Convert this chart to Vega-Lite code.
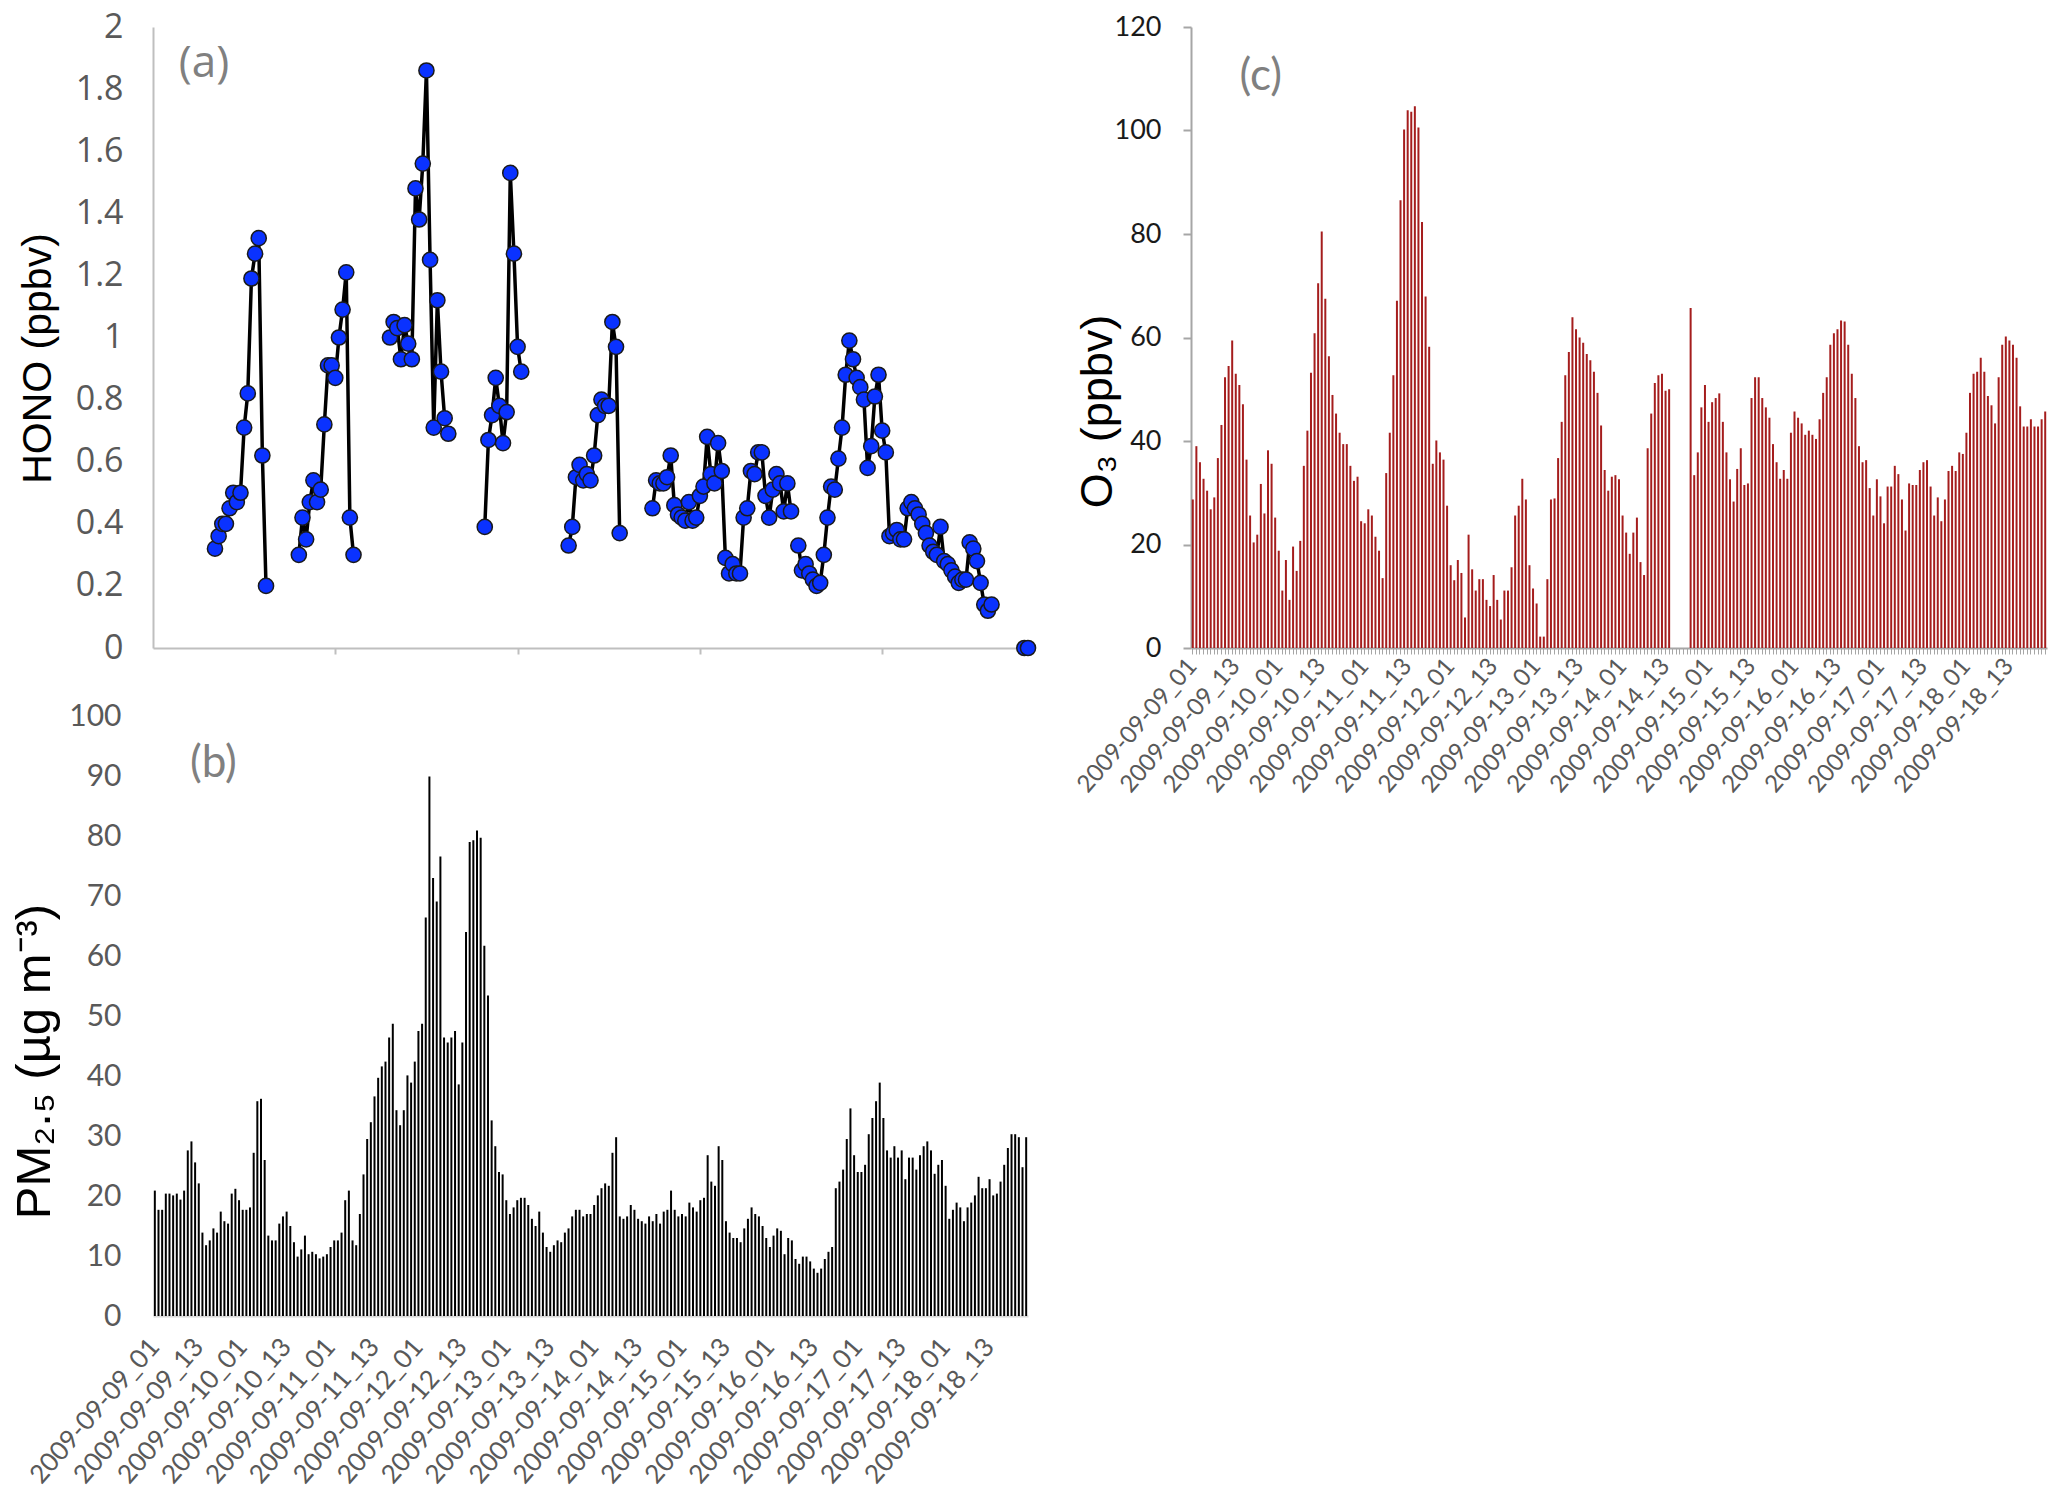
{
  "$schema": "https://vega.github.io/schema/vega-lite/v6.json",
  "background": "white",
  "padding": {"left": 10, "top": 10, "right": 5, "bottom": 5},
  "config": {"view": {"stroke": null}, "axis": {"grid": false}},
  "datasets": {
    "hono": [
      {"i":17,"v":0.32,"s":1},{"i":18,"v":0.36,"s":1},{"i":19,"v":0.40,"s":1},{"i":20,"v":0.40,"s":1},{"i":21,"v":0.45,"s":1},{"i":22,"v":0.50,"s":1},{"i":23,"v":0.47,"s":1},{"i":24,"v":0.50,"s":1},{"i":25,"v":0.71,"s":1},{"i":26,"v":0.82,"s":1},{"i":27,"v":1.19,"s":1},{"i":28,"v":1.27,"s":1},{"i":29,"v":1.32,"s":1},{"i":30,"v":0.62,"s":1},{"i":31,"v":0.20,"s":1},
      {"i":40,"v":0.30,"s":2},{"i":41,"v":0.42,"s":2},{"i":42,"v":0.35,"s":2},{"i":43,"v":0.47,"s":2},{"i":44,"v":0.54,"s":2},{"i":45,"v":0.47,"s":2},{"i":46,"v":0.51,"s":2},{"i":47,"v":0.72,"s":2},{"i":48,"v":0.91,"s":2},{"i":49,"v":0.91,"s":2},{"i":50,"v":0.87,"s":2},{"i":51,"v":1.00,"s":2},{"i":52,"v":1.09,"s":2},{"i":53,"v":1.21,"s":2},{"i":54,"v":0.42,"s":2},{"i":55,"v":0.30,"s":2},
      {"i":65,"v":1.00,"s":3},{"i":66,"v":1.05,"s":3},{"i":67,"v":1.03,"s":3},{"i":68,"v":0.93,"s":3},{"i":69,"v":1.04,"s":3},{"i":70,"v":0.98,"s":3},{"i":71,"v":0.93,"s":3},{"i":72,"v":1.48,"s":3},{"i":73,"v":1.38,"s":3},{"i":74,"v":1.56,"s":3},{"i":75,"v":1.86,"s":3},{"i":76,"v":1.25,"s":3},{"i":77,"v":0.71,"s":3},{"i":78,"v":1.12,"s":3},{"i":79,"v":0.89,"s":3},{"i":80,"v":0.74,"s":3},{"i":81,"v":0.69,"s":3},
      {"i":91,"v":0.39,"s":4},{"i":92,"v":0.67,"s":4},{"i":93,"v":0.75,"s":4},{"i":94,"v":0.87,"s":4},{"i":95,"v":0.78,"s":4},{"i":96,"v":0.66,"s":4},{"i":97,"v":0.76,"s":4},{"i":98,"v":1.53,"s":4},{"i":99,"v":1.27,"s":4},{"i":100,"v":0.97,"s":4},{"i":101,"v":0.89,"s":4},
      {"i":114,"v":0.33,"s":5},{"i":115,"v":0.39,"s":5},{"i":116,"v":0.55,"s":5},{"i":117,"v":0.59,"s":5},{"i":118,"v":0.54,"s":5},{"i":119,"v":0.56,"s":5},{"i":120,"v":0.54,"s":5},{"i":121,"v":0.62,"s":5},{"i":122,"v":0.75,"s":5},{"i":123,"v":0.80,"s":5},{"i":124,"v":0.78,"s":5},{"i":125,"v":0.78,"s":5},{"i":126,"v":1.05,"s":5},{"i":127,"v":0.97,"s":5},{"i":128,"v":0.37,"s":5},
      {"i":137,"v":0.45,"s":6},{"i":138,"v":0.54,"s":6},{"i":139,"v":0.53,"s":6},{"i":140,"v":0.53,"s":6},{"i":141,"v":0.55,"s":6},{"i":142,"v":0.62,"s":6},{"i":143,"v":0.46,"s":6},{"i":144,"v":0.43,"s":6},{"i":145,"v":0.42,"s":6},{"i":146,"v":0.41,"s":6},{"i":147,"v":0.47,"s":6},{"i":148,"v":0.41,"s":6},{"i":149,"v":0.42,"s":6},{"i":150,"v":0.49,"s":6},{"i":151,"v":0.52,"s":6},{"i":152,"v":0.68,"s":6},{"i":153,"v":0.56,"s":6},{"i":154,"v":0.53,"s":6},{"i":155,"v":0.66,"s":6},{"i":156,"v":0.57,"s":6},{"i":157,"v":0.29,"s":6},{"i":158,"v":0.24,"s":6},{"i":159,"v":0.27,"s":6},{"i":160,"v":0.24,"s":6},{"i":161,"v":0.24,"s":6},{"i":162,"v":0.42,"s":6},{"i":163,"v":0.45,"s":6},{"i":164,"v":0.57,"s":6},{"i":165,"v":0.56,"s":6},{"i":166,"v":0.63,"s":6},{"i":167,"v":0.63,"s":6},{"i":168,"v":0.49,"s":6},{"i":169,"v":0.42,"s":6},{"i":170,"v":0.51,"s":6},{"i":171,"v":0.56,"s":6},{"i":172,"v":0.53,"s":6},{"i":173,"v":0.44,"s":6},{"i":174,"v":0.53,"s":6},{"i":175,"v":0.44,"s":6},
      {"i":177,"v":0.33,"s":7},{"i":178,"v":0.25,"s":7},{"i":179,"v":0.27,"s":7},{"i":180,"v":0.24,"s":7},{"i":181,"v":0.22,"s":7},{"i":182,"v":0.20,"s":7},{"i":183,"v":0.21,"s":7},{"i":184,"v":0.30,"s":7},{"i":185,"v":0.42,"s":7},{"i":186,"v":0.52,"s":7},{"i":187,"v":0.51,"s":7},{"i":188,"v":0.61,"s":7},{"i":189,"v":0.71,"s":7},{"i":190,"v":0.88,"s":7},{"i":191,"v":0.99,"s":7},{"i":192,"v":0.93,"s":7},{"i":193,"v":0.87,"s":7},{"i":194,"v":0.84,"s":7},{"i":195,"v":0.80,"s":7},{"i":196,"v":0.58,"s":7},{"i":197,"v":0.65,"s":7},{"i":198,"v":0.81,"s":7},{"i":199,"v":0.88,"s":7},{"i":200,"v":0.70,"s":7},{"i":201,"v":0.63,"s":7},{"i":202,"v":0.36,"s":7},{"i":203,"v":0.37,"s":7},{"i":204,"v":0.38,"s":7},{"i":205,"v":0.35,"s":7},{"i":206,"v":0.35,"s":7},{"i":207,"v":0.45,"s":7},{"i":208,"v":0.47,"s":7},{"i":209,"v":0.45,"s":7},{"i":210,"v":0.43,"s":7},{"i":211,"v":0.40,"s":7},{"i":212,"v":0.37,"s":7},{"i":213,"v":0.33,"s":7},{"i":214,"v":0.31,"s":7},{"i":215,"v":0.30,"s":7},{"i":216,"v":0.39,"s":7},{"i":217,"v":0.28,"s":7},{"i":218,"v":0.27,"s":7},{"i":219,"v":0.25,"s":7},{"i":220,"v":0.23,"s":7},{"i":221,"v":0.21,"s":7},{"i":222,"v":0.22,"s":7},{"i":223,"v":0.22,"s":7},{"i":224,"v":0.34,"s":7},{"i":225,"v":0.32,"s":7},{"i":226,"v":0.28,"s":7},{"i":227,"v":0.21,"s":7},{"i":228,"v":0.14,"s":7},{"i":229,"v":0.12,"s":7},{"i":230,"v":0.14,"s":7},
      {"i":239,"v":0,"s":8},{"i":240,"v":0,"s":8}
    ],
    "hourly": [
      {"t":"2009-09-09_01","pm":20.9,"o3":28.7},{"t":"2009-09-09_02","pm":17.7,"o3":39.0},{"t":"2009-09-09_03","pm":17.7,"o3":35.9},{"t":"2009-09-09_04","pm":20.4,"o3":32.7},{"t":"2009-09-09_05","pm":20.4,"o3":30.4},{"t":"2009-09-09_06","pm":20.1,"o3":26.8},{"t":"2009-09-09_07","pm":20.4,"o3":29.1},{"t":"2009-09-09_08","pm":19.4,"o3":36.7},{"t":"2009-09-09_09","pm":20.9,"o3":43.1},{"t":"2009-09-09_10","pm":27.6,"o3":52.3},{"t":"2009-09-09_11","pm":29.1,"o3":54.5},{"t":"2009-09-09_12","pm":25.6,"o3":59.4},{"t":"2009-09-09_13","pm":22.1,"o3":53.0},{"t":"2009-09-09_14","pm":13.9,"o3":50.8},{"t":"2009-09-09_15","pm":11.8,"o3":47.1},{"t":"2009-09-09_16","pm":12.6,"o3":36.4},{"t":"2009-09-09_17","pm":14.6,"o3":25.6},{"t":"2009-09-09_18","pm":13.9,"o3":20.4},{"t":"2009-09-09_19","pm":17.4,"o3":21.9},{"t":"2009-09-09_20","pm":15.8,"o3":31.7},{"t":"2009-09-09_21","pm":15.4,"o3":26.0},{"t":"2009-09-09_22","pm":20.4,"o3":38.2},{"t":"2009-09-09_23","pm":21.2,"o3":35.6},{"t":"2009-09-09_24","pm":19.3,"o3":25.2},
      {"t":"2009-09-10_01","pm":17.7,"o3":18.8},{"t":"2009-09-10_02","pm":17.7,"o3":11.1},{"t":"2009-09-10_03","pm":18.1,"o3":17.0},{"t":"2009-09-10_04","pm":27.2,"o3":9.3},{"t":"2009-09-10_05","pm":35.8,"o3":19.6},{"t":"2009-09-10_06","pm":36.2,"o3":14.9},{"t":"2009-09-10_07","pm":26.0,"o3":20.7},{"t":"2009-09-10_08","pm":13.4,"o3":35.2},{"t":"2009-09-10_09","pm":12.6,"o3":42.0},{"t":"2009-09-10_10","pm":12.6,"o3":53.2},{"t":"2009-09-10_11","pm":15.4,"o3":60.8},{"t":"2009-09-10_12","pm":16.6,"o3":70.5},{"t":"2009-09-10_13","pm":17.4,"o3":80.5},{"t":"2009-09-10_14","pm":15.0,"o3":67.5},{"t":"2009-09-10_15","pm":12.3,"o3":56.4},{"t":"2009-09-10_16","pm":9.9,"o3":48.9},{"t":"2009-09-10_17","pm":11.1,"o3":45.3},{"t":"2009-09-10_18","pm":13.4,"o3":41.6},{"t":"2009-09-10_19","pm":10.3,"o3":39.4},{"t":"2009-09-10_20","pm":10.7,"o3":39.4},{"t":"2009-09-10_21","pm":10.3,"o3":35.2},{"t":"2009-09-10_22","pm":9.6,"o3":32.3},{"t":"2009-09-10_23","pm":9.9,"o3":33.1},{"t":"2009-09-10_24","pm":10.3,"o3":24.5},
      {"t":"2009-09-11_01","pm":11.5,"o3":24.1},{"t":"2009-09-11_02","pm":12.6,"o3":26.8},{"t":"2009-09-11_03","pm":12.6,"o3":25.6},{"t":"2009-09-11_04","pm":13.9,"o3":21.5},{"t":"2009-09-11_05","pm":19.3,"o3":18.8},{"t":"2009-09-11_06","pm":20.9,"o3":13.5},{"t":"2009-09-11_07","pm":12.6,"o3":33.8},{"t":"2009-09-11_08","pm":11.8,"o3":41.6},{"t":"2009-09-11_09","pm":17.0,"o3":52.7},{"t":"2009-09-11_10","pm":23.6,"o3":67.1},{"t":"2009-09-11_11","pm":29.5,"o3":86.5},{"t":"2009-09-11_12","pm":32.3,"o3":100.2},{"t":"2009-09-11_13","pm":36.6,"o3":103.9},{"t":"2009-09-11_14","pm":39.7,"o3":103.6},{"t":"2009-09-11_15","pm":41.6,"o3":104.7},{"t":"2009-09-11_16","pm":42.4,"o3":100.6},{"t":"2009-09-11_17","pm":46.4,"o3":82.3},{"t":"2009-09-11_18","pm":48.7,"o3":67.9},{"t":"2009-09-11_19","pm":34.3,"o3":58.2},{"t":"2009-09-11_20","pm":31.8,"o3":35.6},{"t":"2009-09-11_21","pm":34.3,"o3":40.1},{"t":"2009-09-11_22","pm":40.1,"o3":37.8},{"t":"2009-09-11_23","pm":38.9,"o3":36.4},{"t":"2009-09-11_24","pm":42.4,"o3":27.5},
      {"t":"2009-09-12_01","pm":47.5,"o3":16.0},{"t":"2009-09-12_02","pm":48.7,"o3":13.1},{"t":"2009-09-12_03","pm":66.4,"o3":17.0},{"t":"2009-09-12_04","pm":89.9,"o3":14.5},{"t":"2009-09-12_05","pm":73.0,"o3":5.9},{"t":"2009-09-12_06","pm":69.1,"o3":21.9},{"t":"2009-09-12_07","pm":76.6,"o3":15.2},{"t":"2009-09-12_08","pm":46.4,"o3":11.1},{"t":"2009-09-12_09","pm":45.6,"o3":13.3},{"t":"2009-09-12_10","pm":46.4,"o3":13.3},{"t":"2009-09-12_11","pm":47.5,"o3":9.3},{"t":"2009-09-12_12","pm":38.6,"o3":8.1},{"t":"2009-09-12_13","pm":45.6,"o3":14.1},{"t":"2009-09-12_14","pm":64.0,"o3":9.3},{"t":"2009-09-12_15","pm":79.0,"o3":5.5},{"t":"2009-09-12_16","pm":79.3,"o3":11.1},{"t":"2009-09-12_17","pm":80.9,"o3":11.1},{"t":"2009-09-12_18","pm":79.7,"o3":15.6},{"t":"2009-09-12_19","pm":61.7,"o3":25.6},{"t":"2009-09-12_20","pm":53.4,"o3":27.5},{"t":"2009-09-12_21","pm":32.6,"o3":32.7},{"t":"2009-09-12_22","pm":28.3,"o3":28.7},{"t":"2009-09-12_23","pm":24.0,"o3":16.0},{"t":"2009-09-12_24","pm":23.6,"o3":11.5},
      {"t":"2009-09-13_01","pm":19.3,"o3":8.6},{"t":"2009-09-13_02","pm":17.0,"o3":2.2},{"t":"2009-09-13_03","pm":18.1,"o3":2.2},{"t":"2009-09-13_04","pm":19.3,"o3":13.3},{"t":"2009-09-13_05","pm":19.7,"o3":28.7},{"t":"2009-09-13_06","pm":19.7,"o3":28.9},{"t":"2009-09-13_07","pm":18.5,"o3":36.7},{"t":"2009-09-13_08","pm":16.2,"o3":43.7},{"t":"2009-09-13_09","pm":15.0,"o3":52.7},{"t":"2009-09-13_10","pm":17.4,"o3":57.2},{"t":"2009-09-13_11","pm":13.9,"o3":63.9},{"t":"2009-09-13_12","pm":11.5,"o3":61.6},{"t":"2009-09-13_13","pm":10.7,"o3":60.0},{"t":"2009-09-13_14","pm":11.8,"o3":59.0},{"t":"2009-09-13_15","pm":12.6,"o3":56.8},{"t":"2009-09-13_16","pm":12.3,"o3":55.6},{"t":"2009-09-13_17","pm":13.9,"o3":53.4},{"t":"2009-09-13_18","pm":14.6,"o3":49.3},{"t":"2009-09-13_19","pm":16.6,"o3":43.0},{"t":"2009-09-13_20","pm":17.7,"o3":34.4},{"t":"2009-09-13_21","pm":17.7,"o3":30.4},{"t":"2009-09-13_22","pm":16.6,"o3":33.1},{"t":"2009-09-13_23","pm":17.0,"o3":33.4},{"t":"2009-09-13_24","pm":17.0,"o3":32.6},
      {"t":"2009-09-14_01","pm":18.5,"o3":25.6},{"t":"2009-09-14_02","pm":20.1,"o3":22.3},{"t":"2009-09-14_03","pm":21.3,"o3":18.2},{"t":"2009-09-14_04","pm":22.1,"o3":22.3},{"t":"2009-09-14_05","pm":21.7,"o3":25.2},{"t":"2009-09-14_06","pm":27.2,"o3":16.6},{"t":"2009-09-14_07","pm":29.8,"o3":14.1},{"t":"2009-09-14_08","pm":16.6,"o3":38.6},{"t":"2009-09-14_09","pm":16.2,"o3":45.3},{"t":"2009-09-14_10","pm":16.6,"o3":51.2},{"t":"2009-09-14_11","pm":18.5,"o3":52.7},{"t":"2009-09-14_12","pm":17.7,"o3":53.0},{"t":"2009-09-14_13","pm":16.2,"o3":49.7},{"t":"2009-09-14_14","pm":15.8,"o3":50.0},{"t":"2009-09-14_15","pm":15.4,"o3":0},{"t":"2009-09-14_16","pm":16.6,"o3":0},{"t":"2009-09-14_17","pm":15.8,"o3":0},{"t":"2009-09-14_18","pm":17.0,"o3":0},{"t":"2009-09-14_19","pm":15.4,"o3":0},{"t":"2009-09-14_20","pm":17.4,"o3":65.7},{"t":"2009-09-14_21","pm":17.7,"o3":33.4},{"t":"2009-09-14_22","pm":20.9,"o3":37.8},{"t":"2009-09-14_23","pm":17.7,"o3":46.5},{"t":"2009-09-14_24","pm":16.6,"o3":50.8},
      {"t":"2009-09-15_01","pm":17.0,"o3":43.7},{"t":"2009-09-15_02","pm":16.6,"o3":47.5},{"t":"2009-09-15_03","pm":18.9,"o3":48.3},{"t":"2009-09-15_04","pm":18.1,"o3":49.2},{"t":"2009-09-15_05","pm":17.4,"o3":43.7},{"t":"2009-09-15_06","pm":19.3,"o3":37.8},{"t":"2009-09-15_07","pm":19.7,"o3":32.6},{"t":"2009-09-15_08","pm":26.8,"o3":28.3},{"t":"2009-09-15_09","pm":22.4,"o3":34.6},{"t":"2009-09-15_10","pm":21.7,"o3":38.6},{"t":"2009-09-15_11","pm":28.3,"o3":31.5},{"t":"2009-09-15_12","pm":26.0,"o3":31.8},{"t":"2009-09-15_13","pm":15.8,"o3":48.3},{"t":"2009-09-15_14","pm":13.9,"o3":52.3},{"t":"2009-09-15_15","pm":13.0,"o3":52.3},{"t":"2009-09-15_16","pm":13.0,"o3":48.3},{"t":"2009-09-15_17","pm":12.3,"o3":46.5},{"t":"2009-09-15_18","pm":14.6,"o3":44.5},{"t":"2009-09-15_19","pm":16.2,"o3":39.4},{"t":"2009-09-15_20","pm":18.1,"o3":35.9},{"t":"2009-09-15_21","pm":17.0,"o3":32.7},{"t":"2009-09-15_22","pm":16.6,"o3":34.4},{"t":"2009-09-15_23","pm":15.0,"o3":32.7},{"t":"2009-09-15_24","pm":13.0,"o3":41.6},
      {"t":"2009-09-16_01","pm":11.5,"o3":45.7},{"t":"2009-09-16_02","pm":13.4,"o3":44.5},{"t":"2009-09-16_03","pm":14.6,"o3":43.4},{"t":"2009-09-16_04","pm":14.2,"o3":41.2},{"t":"2009-09-16_05","pm":10.3,"o3":42.0},{"t":"2009-09-16_06","pm":13.0,"o3":41.2},{"t":"2009-09-16_07","pm":12.6,"o3":40.4},{"t":"2009-09-16_08","pm":9.5,"o3":44.2},{"t":"2009-09-16_09","pm":8.7,"o3":49.3},{"t":"2009-09-16_10","pm":9.9,"o3":52.3},{"t":"2009-09-16_11","pm":9.9,"o3":58.6},{"t":"2009-09-16_12","pm":9.1,"o3":60.8},{"t":"2009-09-16_13","pm":7.9,"o3":61.6},{"t":"2009-09-16_14","pm":7.2,"o3":63.3},{"t":"2009-09-16_15","pm":7.9,"o3":63.1},{"t":"2009-09-16_16","pm":9.5,"o3":58.6},{"t":"2009-09-16_17","pm":10.7,"o3":53.0},{"t":"2009-09-16_18","pm":11.5,"o3":48.3},{"t":"2009-09-16_19","pm":21.3,"o3":39.0},{"t":"2009-09-16_20","pm":22.4,"o3":35.9},{"t":"2009-09-16_21","pm":24.4,"o3":36.3},{"t":"2009-09-16_22","pm":29.5,"o3":30.9},{"t":"2009-09-16_23","pm":34.6,"o3":25.6},{"t":"2009-09-16_24","pm":26.8,"o3":32.6},
      {"t":"2009-09-17_01","pm":24.0,"o3":29.3},{"t":"2009-09-17_02","pm":24.0,"o3":24.1},{"t":"2009-09-17_03","pm":25.2,"o3":31.2},{"t":"2009-09-17_04","pm":30.3,"o3":31.2},{"t":"2009-09-17_05","pm":33.0,"o3":35.2},{"t":"2009-09-17_06","pm":35.8,"o3":33.6},{"t":"2009-09-17_07","pm":38.9,"o3":28.7},{"t":"2009-09-17_08","pm":33.0,"o3":22.7},{"t":"2009-09-17_09","pm":27.6,"o3":31.8},{"t":"2009-09-17_10","pm":26.4,"o3":31.5},{"t":"2009-09-17_11","pm":28.3,"o3":31.5},{"t":"2009-09-17_12","pm":26.4,"o3":34.4},{"t":"2009-09-17_13","pm":27.6,"o3":35.9},{"t":"2009-09-17_14","pm":22.8,"o3":36.3},{"t":"2009-09-17_15","pm":26.4,"o3":31.2},{"t":"2009-09-17_16","pm":26.4,"o3":25.6},{"t":"2009-09-17_17","pm":24.4,"o3":29.1},{"t":"2009-09-17_18","pm":26.8,"o3":24.5},{"t":"2009-09-17_19","pm":28.3,"o3":28.7},{"t":"2009-09-17_20","pm":29.1,"o3":34.2},{"t":"2009-09-17_21","pm":27.6,"o3":35.2},{"t":"2009-09-17_22","pm":23.7,"o3":34.2},{"t":"2009-09-17_23","pm":25.2,"o3":37.8},{"t":"2009-09-17_24","pm":26.0,"o3":37.5},
      {"t":"2009-09-18_01","pm":21.7,"o3":41.6},{"t":"2009-09-18_02","pm":16.2,"o3":49.3},{"t":"2009-09-18_03","pm":17.7,"o3":53.0},{"t":"2009-09-18_04","pm":18.9,"o3":53.4},{"t":"2009-09-18_05","pm":18.1,"o3":56.1},{"t":"2009-09-18_06","pm":15.8,"o3":53.4},{"t":"2009-09-18_07","pm":18.1,"o3":48.7},{"t":"2009-09-18_08","pm":18.9,"o3":46.9},{"t":"2009-09-18_09","pm":20.1,"o3":43.4},{"t":"2009-09-18_10","pm":23.2,"o3":52.3},{"t":"2009-09-18_11","pm":21.3,"o3":58.6},{"t":"2009-09-18_12","pm":21.3,"o3":60.2},{"t":"2009-09-18_13","pm":22.8,"o3":59.4},{"t":"2009-09-18_14","pm":20.1,"o3":58.6},{"t":"2009-09-18_15","pm":20.4,"o3":56.1},{"t":"2009-09-18_16","pm":22.4,"o3":46.7},{"t":"2009-09-18_17","pm":25.2,"o3":42.8},{"t":"2009-09-18_18","pm":28.0,"o3":42.8},{"t":"2009-09-18_19","pm":30.3,"o3":44.2},{"t":"2009-09-18_20","pm":30.3,"o3":42.8},{"t":"2009-09-18_21","pm":29.8,"o3":42.8},{"t":"2009-09-18_22","pm":24.8,"o3":44.2},{"t":"2009-09-18_23","pm":29.8,"o3":45.7}
    ]
  },
  "hconcat": [
    {
      "vconcat": [
        {
          "width": 875,
          "height": 621,
          "layer": [
            {
              "data": {"name": "hono"},
              "mark": {"type": "line", "color": "black", "strokeWidth": 3.5},
              "encoding": {
                "x": {
                  "field": "i",
                  "type": "quantitative",
                  "scale": {"domain": [0, 240], "nice": false, "zero": false},
                  "axis": {"values": [50, 100, 150, 200], "labels": false, "title": null, "domainColor": "#bfbfbf", "domainWidth": 2, "tickColor": "#bfbfbf", "tickWidth": 2, "tickSize": 6}
                },
                "y": {
                  "field": "v",
                  "type": "quantitative",
                  "scale": {"domain": [0, 2], "nice": false},
                  "axis": {
                    "values": [0, 0.2, 0.4, 0.6, 0.8, 1, 1.2, 1.4, 1.6, 1.8, 2],
                    "format": "~g",
                    "title": "HONO (ppbv)",
                    "titleFont": "Liberation Sans",
                    "titleFontSize": 41,
                    "titleFontWeight": "normal",
                    "titleColor": "black",
                    "titlePadding": 16,
                    "titleY": 331,
                    "labelFont": "'Liberation Sans Narrow', 'Open Sans'",
                    "labelFontSize": 34,
                    "labelColor": "#595959",
                    "labelPadding": 30,
                    "ticks": false,
                    "domainColor": "#bfbfbf",
                    "domainWidth": 2
                  }
                },
                "detail": {"field": "s"}
              }
            },
            {
              "data": {"name": "hono"},
              "mark": {"type": "point", "filled": true, "fill": "#0a32ff", "stroke": "#1a1a1a", "strokeWidth": 1.5, "size": 230, "opacity": 1},
              "encoding": {
                "x": {"field": "i", "type": "quantitative"},
                "y": {"field": "v", "type": "quantitative"}
              }
            },
            {
              "data": {"values": [{"lbl": "(a)"}]},
              "mark": {"type": "text", "font": "'Liberation Sans Narrow', 'Open Sans'", "fontSize": 44, "color": "#808080"},
              "encoding": {
                "text": {"field": "lbl"},
                "x": {"datum": 14},
                "y": {"datum": 1.88}
              }
            }
          ]
        },
        {
          "width": 875,
          "height": 600,
          "layer": [
            {
              "data": {"name": "hourly"},
              "mark": {"type": "bar", "color": "black", "size": 2},
              "encoding": {
                "x": {
                  "field": "t",
                  "type": "ordinal",
                  "scale": {"paddingInner": 0, "paddingOuter": 0},
                  "axis": {
                    "title": null,
                    "labelExpr": "slice(datum.label, -3) == '_01' || slice(datum.label, -3) == '_13' ? datum.label : ''",
                    "labelAngle": -49,
                    "labelOverlap": false,
                    "labelBound": false,
                    "labelLimit": 400,
                    "labelFont": "Lato",
                    "labelFontSize": 26,
                    "labelColor": "#595959",
                    "ticks": false,
                    "labelPadding": 26,
                    "domainColor": "#d9d9d9",
                    "domainWidth": 2
                  }
                },
                "y": {
                  "field": "pm",
                  "type": "quantitative",
                  "scale": {"domain": [0, 100], "nice": false},
                  "axis": {
                    "values": [0, 10, 20, 30, 40, 50, 60, 70, 80, 90, 100],
                    "title": "PM₂.₅ (µg m⁻³)",
                    "titleFont": "Liberation Sans",
                    "titleFontSize": 49,
                    "titleFontWeight": "normal",
                    "titleColor": "black",
                    "titlePadding": 9,
                    "titleY": 345,
                    "labelFont": "Lato",
                    "labelFontSize": 30,
                    "labelColor": "#595959",
                    "labelPadding": 32,
                    "ticks": false,
                    "domain": false
                  }
                }
              }
            },
            {
              "data": {"values": [{"lbl": "(b)"}]},
              "mark": {"type": "text", "font": "Lato", "fontSize": 44, "color": "#808080"},
              "encoding": {
                "text": {"field": "lbl"},
                "x": {"datum": "2009-09-09_17", "type": "ordinal"},
                "y": {"datum": 92}
              }
            }
          ]
        }
      ],
      "spacing": 68,
      "bounds": "flush"
    },
    {
      "width": 856,
      "height": 621,
      "layer": [
        {
          "data": {"name": "hourly"},
          "mark": {"type": "bar", "color": "#a51d1d", "size": 2},
          "encoding": {
            "x": {
              "field": "t",
              "type": "ordinal",
              "scale": {"paddingInner": 0, "paddingOuter": 0},
              "axis": {
                "title": null,
                "labelExpr": "slice(datum.label, -3) == '_01' || slice(datum.label, -3) == '_13' ? datum.label : ''",
                "labelAngle": -49,
                "labelOverlap": false,
                "labelBound": false,
                "labelLimit": 400,
                "labelFont": "Lato",
                "labelFontSize": 24,
                "labelColor": "#595959",
                "ticks": true,
                "tickSize": 6,
                "tickColor": "#a6a6a6",
                "labelPadding": 8,
                "domainColor": "#a6a6a6",
                "domainWidth": 2
              }
            },
            "y": {
              "field": "o3",
              "type": "quantitative",
              "scale": {"domain": [0, 120], "nice": false},
              "axis": {
                "values": [0, 20, 40, 60, 80, 100, 120],
                "title": "O₃ (ppbv)",
                "titleFont": "Liberation Sans",
                "titleFontSize": 45,
                "titleFontWeight": "normal",
                "titleColor": "black",
                "titlePadding": -6,
                "titleY": 384,
                "labelFont": "Lato",
                "labelFontSize": 27,
                "labelColor": "#1a1a1a",
                "labelPadding": 22,
                "tickSize": 8,
                "tickColor": "#a6a6a6",
                "tickWidth": 2,
                "domainColor": "#a6a6a6",
                "domainWidth": 2
              }
            }
          }
        },
        {
          "data": {"values": [{"lbl": "(c)"}]},
          "mark": {"type": "text", "font": "Lato", "fontSize": 44, "color": "#808080"},
          "encoding": {
            "text": {"field": "lbl"},
            "x": {"datum": "2009-09-09_20", "type": "ordinal"},
            "y": {"datum": 110.3}
          }
        }
      ]
    }
  ],
  "spacing": 33
}
